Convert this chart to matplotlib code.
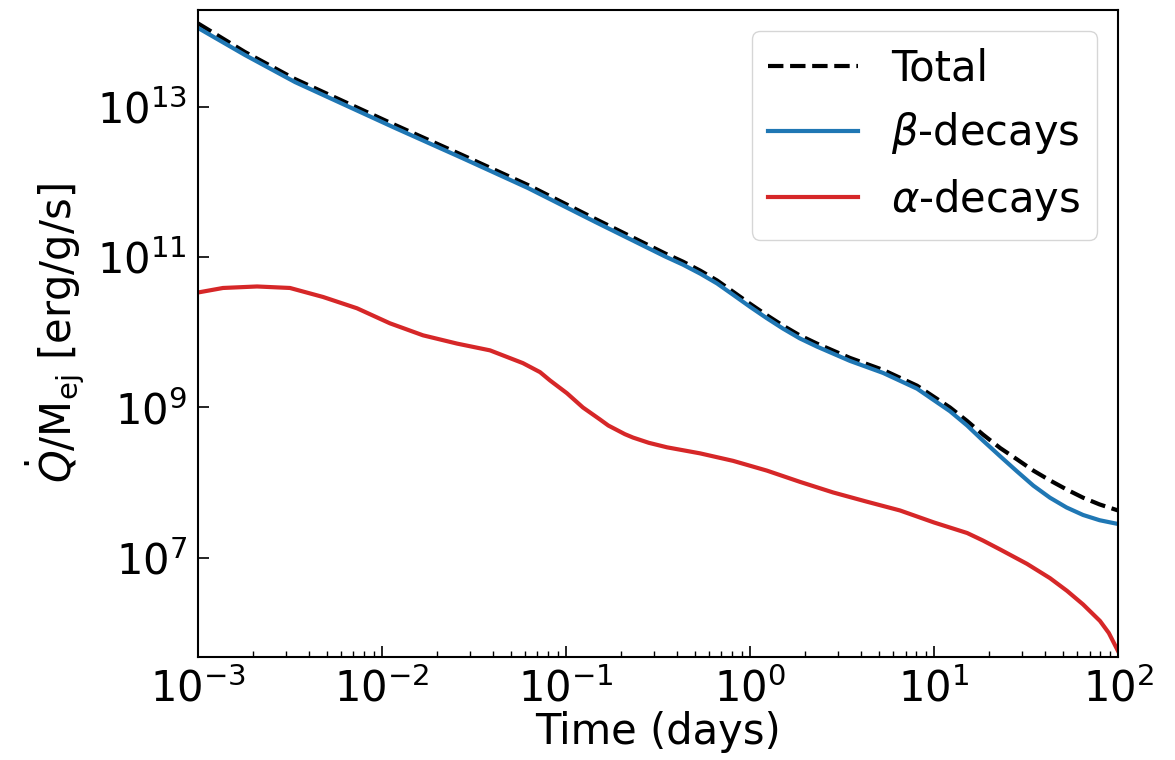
import numpy as np
import matplotlib
matplotlib.use("Agg")
import matplotlib.pyplot as plt
from matplotlib.ticker import NullLocator

# values (log10 of time in days, log10 of heating rate)
logt_total = [-3.0, -2.745, -2.473, -1.93, -1.565, -1.207, -0.842, -0.462, -0.364,
              -0.27, -0.179, -0.092, 0.0, 0.09, 0.179, 0.27, 0.364, 0.543, 0.723,
              0.908, 1.087, 1.18, 1.266, 1.36, 1.451, 1.54, 1.63, 1.72, 1.81, 1.9, 2.0]
logq_total = [14.11, 13.73, 13.37, 12.76, 12.36, 11.96, 11.51, 11.05, 10.94,
              10.82, 10.69, 10.54, 10.38, 10.23, 10.09, 9.96, 9.85, 9.66, 9.50,
              9.29, 9.00, 8.82, 8.64, 8.46, 8.31, 8.16, 8.03, 7.91, 7.80, 7.71, 7.63]

logt_beta = [-3.0, -2.745, -2.473, -1.93, -1.565, -1.207, -0.842, -0.462, -0.364,
             -0.27, -0.179, -0.092, 0.0, 0.09, 0.179, 0.27, 0.364, 0.543, 0.723,
             0.908, 1.087, 1.18, 1.266, 1.36, 1.451, 1.54, 1.63, 1.72, 1.81, 1.9, 2.0]
logq_beta = [14.05, 13.69, 13.33, 12.72, 12.32, 11.92, 11.47, 11.01, 10.90,
             10.78, 10.65, 10.50, 10.34, 10.19, 10.05, 9.92, 9.81, 9.62, 9.46,
             9.25, 8.95, 8.76, 8.56, 8.35, 8.15, 7.96, 7.80, 7.67, 7.57, 7.50, 7.45]

logt_alpha = [-3.0, -2.864, -2.679, -2.5, -2.32, -2.136, -1.957, -1.777, -1.592,
              -1.413, -1.234, -1.141, -1.087, -0.995, -0.908, -0.815, -0.77, -0.723,
              -0.68, -0.636, -0.55, -0.451, -0.272, -0.092, 0.092, 0.272, 0.451, 0.63,
              0.815, 1.0, 1.18, 1.266, 1.36, 1.505, 1.63, 1.723, 1.81, 1.902, 1.95, 2.0]
logq_alpha = [10.53, 10.59, 10.61, 10.59, 10.47, 10.32, 10.12, 9.96, 9.85,
              9.76, 9.59, 9.47, 9.36, 9.19, 9.0, 8.84, 8.76, 8.70,
              8.645, 8.60, 8.53, 8.47, 8.39, 8.29, 8.16, 8.01, 7.87, 7.75,
              7.63, 7.47, 7.33, 7.23, 7.11, 6.92, 6.73, 6.56, 6.38, 6.16, 6.0, 5.76]

plt.rcParams['font.size'] = 30

fig = plt.figure(figsize=(11.75, 7.6), dpi=100)
ax = fig.add_axes([0.1685, 0.1355, 0.783, 0.8515])

ax.plot(10**np.array(logt_total), 10**np.array(logq_total), 'k--', lw=3, label='Total')
ax.plot(10**np.array(logt_beta), 10**np.array(logq_beta), color='#1f77b4', lw=3,
        label=r'$\beta$-decays')
ax.plot(10**np.array(logt_alpha), 10**np.array(logq_alpha), color='#d62728', lw=3,
        label=r'$\alpha$-decays')

ax.set_xscale('log')
ax.set_yscale('log')
ax.set_xlim(1e-3, 1e2)
ax.set_ylim(10**5.68, 10**14.29)
ax.set_yticks([1e7, 1e9, 1e11, 1e13])
ax.yaxis.set_minor_locator(NullLocator())

ax.tick_params(which='major', direction='in', length=8, width=1.2, labelsize=30, pad=8)
ax.tick_params(which='minor', direction='in', length=4, width=1)
for s in ax.spines.values():
    s.set_linewidth(1.5)

ax.set_xlabel('Time (days)', fontsize=30, labelpad=0)
ax.set_ylabel(r'$\dot{Q}$/M$_{\rm ej}$ [erg/g/s]', fontsize=30, labelpad=8)

ax.legend(loc='upper right', fontsize=30, handlelength=2.15, borderaxespad=0.5)

fig.savefig('out.png', dpi=100)
